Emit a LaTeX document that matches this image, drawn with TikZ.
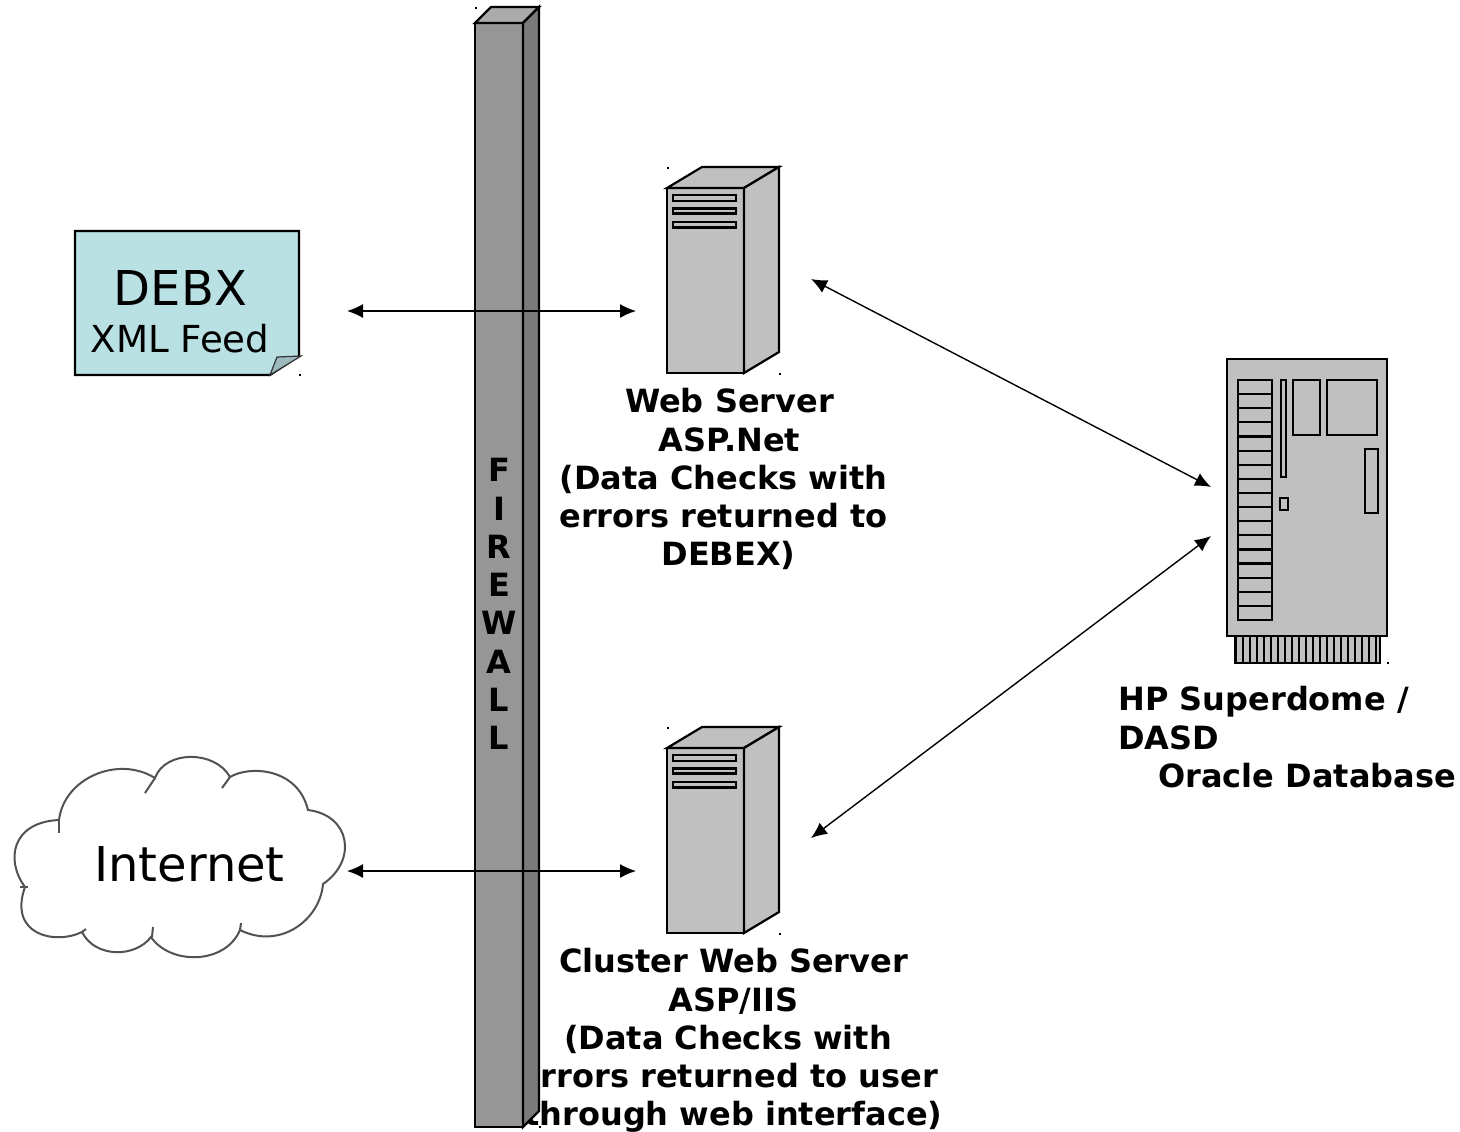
\documentclass[tikz,border=0pt]{standalone}
\usepackage{fontspec}
\setmainfont{DejaVu Sans}
\usetikzlibrary{arrows.meta}
\definecolor{srv}{HTML}{C0C0C0}
\definecolor{fwf}{HTML}{969696}
\definecolor{fwt}{HTML}{ABABAB}
\definecolor{fws}{HTML}{7A7A7A}
\definecolor{note}{HTML}{B9E0E3}
\definecolor{fold}{HTML}{9DBBBF}
\tikzset{
  every picture/.append style={x=0.5pt,y=-0.5pt},
  hw/.style={draw=black,line width=1.1pt,line join=miter,fill=srv},
  slot/.style={draw=black,line width=1.1pt,fill=srv},
  fwall/.style={draw=black,line width=1.2pt},
  biarrow/.style={draw=black,line width=0.7pt,{Latex[length=8pt,width=7pt]}-{Latex[length=8pt,width=7pt]}},
  bold label/.style={inner sep=0pt,font=\fontsize{16}{19.15}\selectfont\bfseries},
  big label/.style={inner sep=0pt,font=\fontsize{24}{28}\selectfont},
  mid label/.style={inner sep=0pt,font=\fontsize{18.6}{22}\selectfont},
  cloudline/.style={draw=black!68,line width=1pt},
  pics/tower/.style={code={
    \draw[hw] (0,0) rectangle (77,185);
    \draw[hw] (0,0) -- (35,-21) -- (112,-21) -- (77,0) -- cycle;
    \draw[hw] (77,0) -- (112,-21) -- (112,164) -- (77,185) -- cycle;
    \draw[slot] (6,7) rectangle (69,13);
    \draw[slot] (6,20.5) rectangle (69,25.5);
    \draw[slot] (6,34) rectangle (69,39.5);
    \fill (0,-21) rectangle +(1.5,1.5);
    \fill (112,185) rectangle +(1.5,1.5);
  }}
}
\begin{document}
\begin{tikzpicture}
\useasboundingbox (0,0) rectangle (1460,1131);
\fill[white] (0,0) rectangle (1460,1131);

% labels behind the firewall
\node[bold label,align=center,anchor=north] (weblabel) at (723.5,388)
  {\hspace*{6pt}Web Server\\ \hspace*{6pt}ASP.Net\\ (Data Checks with\\ errors returned to\\ \hspace*{5pt}DEBEX)};
\node[bold label,align=center,anchor=north] (clusterlabel) at (733.5,948)
  {Cluster Web Server\\ ASP/IIS\\ \hspace*{-5.5pt}(Data Checks with\\ \hspace*{-5pt}errors returned to user\\ through web interface)};
\node[bold label,align=left,anchor=north west] (dblabel) at (1118,686)
  {HP Superdome /\\ DASD\\ \hspace*{20pt}Oracle Database};

% firewall
\draw[fwall,fill=fwf] (475,23) rectangle (523,1127);
\draw[fwall,fill=fwt] (475,23) -- (491,7) -- (539,7) -- (523,23) -- cycle;
\draw[fwall,fill=fws] (523,23) -- (539,7) -- (539,1111) -- (523,1127) -- cycle;
\fill (475,7) rectangle +(1.5,1.5);
\fill (539,1126) rectangle +(1.5,1.5);
\node[bold label,align=center,anchor=north] (fwlabel) at (499,458)
  {F\\I\\R\\E\\W\\A\\L\\L};

% note
\draw[draw=black,line width=1.1pt,fill=note] (75,231) -- (299,231) -- (299,356) -- (270,375) -- (75,375) -- cycle;
\draw[draw=black!80,line width=0.6pt,fill=fold] (270,375) -- (277,357) -- (301,356) -- cycle;
\fill (299,374) rectangle +(1.5,1.5);
\node[big label] (debx) at (180.5,288) {DEBX};
\node[mid label] (xml) at (180,339) {XML Feed};

% cloud
\draw[cloudline,fill=white]
  (25,887) .. controls (5,860) and (12,822) .. (59,820)
  .. controls (64,778) and (118,755) .. (155,778)
  .. controls (165,750) and (215,750) .. (230,777)
  .. controls (250,765) and (298,768) .. (308,810)
  .. controls (350,815) and (358,860) .. (323,884)
  .. controls (320,920) and (280,950) .. (240,930)
  .. controls (225,965) and (170,965) .. (151,937)
  .. controls (135,958) and (95,958) .. (82,932)
  .. controls (55,945) and (8,935) .. (25,887) -- cycle;
\draw[cloudline] (155,778) -- (145,793);
\draw[cloudline] (230,777) -- (222,788);
\draw[cloudline] (59,820) -- (59,833);
\draw[cloudline] (20,887) -- (28,887);
\draw[cloudline] (152,937) -- (153,927);
\draw[cloudline] (240,930) -- (241,923);
\draw[cloudline] (82,932) -- (86,929);
\node[big label] (internet) at (189.5,864) {Internet};

% servers
\pic at (667,188) {tower};
\pic at (667,748) {tower};

% superdome
\draw[hw] (1235,636) rectangle (1380,663);
\foreach \i in {0,...,20} {\draw[black,line width=1.2pt] (1236+\i*7,636) -- (1236+\i*7,663);}
\draw[hw] (1227,359) rectangle (1387,636);
\foreach \i in {0,...,16} {\draw[slot] (1238,380+\i*14.12) rectangle (1272,394.12+\i*14.12);}
\draw[slot] (1281,380) rectangle (1286,477);
\draw[slot] (1293,380) rectangle (1320,435);
\draw[slot] (1327,380) rectangle (1377,435);
\draw[slot] (1365,449) rectangle (1378,513);
\draw[slot] (1280,498) rectangle (1288,510);
\fill (1387,662) rectangle +(2,1.5);

% connector ends
\coordinate (debxport) at (347,311);
\coordinate (webwest) at (636,311);
\coordinate (netport) at (347,871);
\coordinate (clusterwest) at (636,871);
\coordinate (webeast) at (811,279);
\coordinate (dbupper) at (1211,487);
\coordinate (clustereast) at (811,838);
\coordinate (dblower) at (1211,536);
\draw[biarrow] (debxport) -- (webwest);
\draw[biarrow] (netport) -- (clusterwest);
\draw[biarrow] (webeast) -- (dbupper);
\draw[biarrow] (clustereast) -- (dblower);
\end{tikzpicture}
\end{document}
